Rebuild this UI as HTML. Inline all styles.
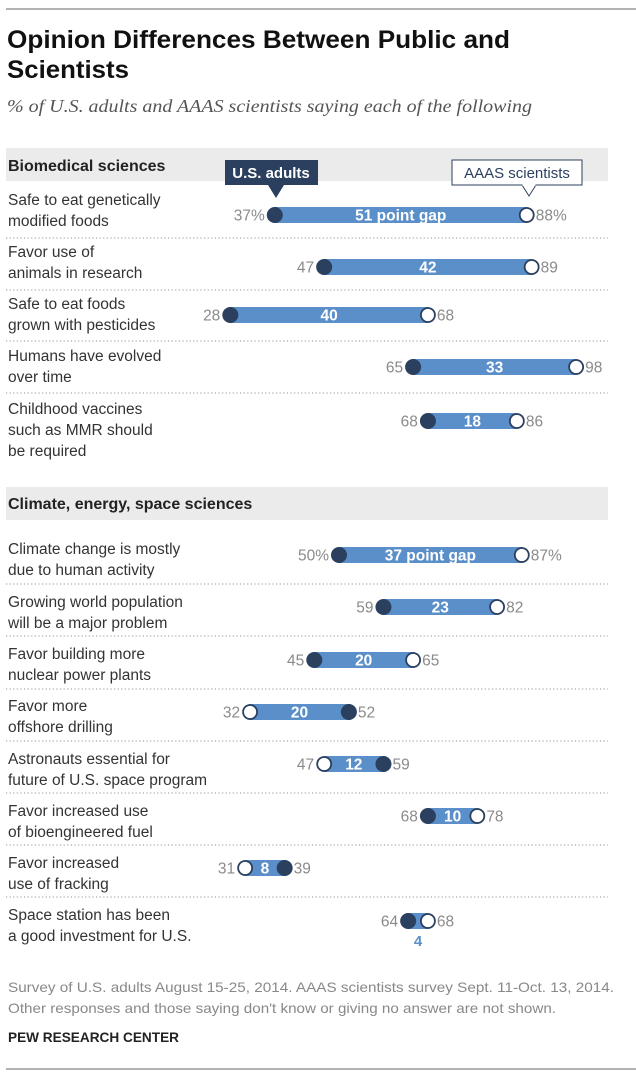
<!DOCTYPE html>
<html><head><meta charset="utf-8"><style>
body{margin:0;background:#fff;}
svg{display:block;font-family:"Liberation Sans",sans-serif;}
.lab{font-size:15.5px;fill:#333;}
.num{font-size:15.5px;fill:#8a8a8a;}
.gap{font-size:15.5px;fill:#fff;font-weight:bold;}
.sep{stroke:#aaa;stroke-width:1.2;stroke-dasharray:1.2 2.4;}
</style></head><body>
<svg width="636" height="1076" viewBox="0 0 636 1076">
<line x1="6" y1="9" x2="636" y2="9" stroke="#666" stroke-width="1"/>
<text x="7" y="48" font-size="25" font-weight="bold" fill="#111" textLength="503" lengthAdjust="spacingAndGlyphs">Opinion Differences Between Public and</text>
<text x="7" y="78" font-size="25" font-weight="bold" fill="#111" textLength="122" lengthAdjust="spacingAndGlyphs">Scientists</text>
<text x="7" y="112" font-size="18" font-style="italic" fill="#555" font-family="Liberation Serif,serif" textLength="525" lengthAdjust="spacingAndGlyphs">% of U.S. adults and AAAS scientists saying each of the following</text>

<rect x="6" y="148" width="602" height="33" fill="#ebebeb"/>
<text x="8" y="171" font-size="16" font-weight="bold" fill="#222">Biomedical sciences</text>
<rect x="6" y="487" width="602" height="33" fill="#ebebeb"/>
<text x="8" y="509" font-size="16" font-weight="bold" fill="#222">Climate, energy, space sciences</text>

<rect x="225" y="160" width="93" height="25" fill="#2b3f5e"/>
<polygon points="268,185 284,185 276,198" fill="#2b3f5e"/>
<text x="271" y="178" text-anchor="middle" font-size="15" font-weight="bold" fill="#fff">U.S. adults</text>
<rect x="452" y="160" width="130" height="25" fill="#fff" stroke="#2b3f5e" stroke-width="1"/>
<polygon points="522,185 536,185 529,196" fill="#fff" stroke="#2b3f5e" stroke-width="1"/>
<line x1="522.5" y1="185" x2="535.5" y2="185" stroke="#fff" stroke-width="2"/>
<text x="517" y="178" text-anchor="middle" font-size="15" fill="#2b3f5e">AAAS scientists</text>

<g class="sep">
<line x1="6" y1="238" x2="608" y2="238"/><line x1="6" y1="290" x2="608" y2="290"/>
<line x1="6" y1="341" x2="608" y2="341"/><line x1="6" y1="393" x2="608" y2="393"/>
<line x1="6" y1="584" x2="608" y2="584"/><line x1="6" y1="636" x2="608" y2="636"/>
<line x1="6" y1="689" x2="608" y2="689"/><line x1="6" y1="741" x2="608" y2="741"/>
<line x1="6" y1="793" x2="608" y2="793"/><line x1="6" y1="845" x2="608" y2="845"/>
<line x1="6" y1="897" x2="608" y2="897"/>
</g>

<g class="lab">
<text x="8" y="205">Safe to eat genetically</text><text x="8" y="226">modified foods</text>
<text x="8" y="257">Favor use of</text><text x="8" y="278">animals in research</text>
<text x="8" y="309">Safe to eat foods</text><text x="8" y="330">grown with pesticides</text>
<text x="8" y="361">Humans have evolved</text><text x="8" y="382">over time</text>
<text x="8" y="414">Childhood vaccines</text><text x="8" y="435">such as MMR should</text><text x="8" y="456">be required</text>
<text x="8" y="554">Climate change is mostly</text><text x="8" y="575">due to human activity</text>
<text x="8" y="607">Growing world population</text><text x="8" y="628">will be a major problem</text>
<text x="8" y="659">Favor building more</text><text x="8" y="680">nuclear power plants</text>
<text x="8" y="711">Favor more</text><text x="8" y="732">offshore drilling</text>
<text x="8" y="764">Astronauts essential for</text><text x="8" y="785">future of U.S. space program</text>
<text x="8" y="816">Favor increased use</text><text x="8" y="837">of bioengineered fuel</text>
<text x="8" y="868">Favor increased</text><text x="8" y="889">use of fracking</text>
<text x="8" y="920">Space station has been</text><text x="8" y="941">a good investment for U.S.</text>
</g>

<g id="bars"></g>

<text x="8" y="992" font-size="14" fill="#888" textLength="606" lengthAdjust="spacingAndGlyphs">Survey of U.S. adults August 15-25, 2014. AAAS scientists survey Sept. 11-Oct. 13, 2014.</text>
<text x="8" y="1013" font-size="14" fill="#888" textLength="548" lengthAdjust="spacingAndGlyphs">Other responses and those saying don't know or giving no answer are not shown.</text>
<text x="8" y="1042" font-size="14" font-weight="bold" fill="#222" textLength="171" lengthAdjust="spacingAndGlyphs">PEW RESEARCH CENTER</text>
<line x1="6" y1="1069" x2="636" y2="1069" stroke="#666" stroke-width="1"/>
</svg>
<script>
var rows=[[215,37,88,"51 point gap",1,0],[267,47,89,"42",0,0],[315,28,68,"40",0,0],[367,65,98,"33",0,0],[421,68,86,"18",0,0],
[555,50,87,"37 point gap",1,0],[607,59,82,"23",0,0],[660,45,65,"20",0,0],[712,52,32,"20",0,0],[764,59,47,"12",0,0],[816,68,78,"10",0,0],[868,39,31,"8",0,0],[921,64,68,"4",0,1]];
var g=document.getElementById('bars'),h="";
function X(v){return 92+4.94*v;}
rows.forEach(function(r){
 var y=r[0],a=X(r[1]),s=X(r[2]),lo=Math.min(a,s),hi=Math.max(a,s),pc=r[4]?"%":"";
 h+='<rect x="'+(lo-7)+'" y="'+(y-8)+'" width="'+(hi-lo+14)+'" height="16" rx="8" fill="#5b8fc9"/>';
 h+='<circle cx="'+a+'" cy="'+y+'" r="8" fill="#2b3f5e"/>';
 h+='<circle cx="'+s+'" cy="'+y+'" r="7" fill="#fff" stroke="#2b3f5e" stroke-width="1.8"/>';
 var lv=a<s?r[1]:r[2],rv=a<s?r[2]:r[1];
 h+='<text class="num" x="'+(lo-10)+'" y="'+(y+5.5)+'" text-anchor="end">'+lv+pc+'</text>';
 h+='<text class="num" x="'+(hi+9)+'" y="'+(y+5.5)+'">'+rv+pc+'</text>';
 if(r[5]) h+='<text x="'+((lo+hi)/2)+'" y="'+(y+25)+'" text-anchor="middle" font-size="15" font-weight="bold" fill="#5b8fc9">'+r[3]+'</text>';
 else h+='<text class="gap" x="'+((lo+hi)/2)+'" y="'+(y+5.5)+'" text-anchor="middle">'+r[3]+'</text>';
});
g.innerHTML=h;
</script>
</body></html>
